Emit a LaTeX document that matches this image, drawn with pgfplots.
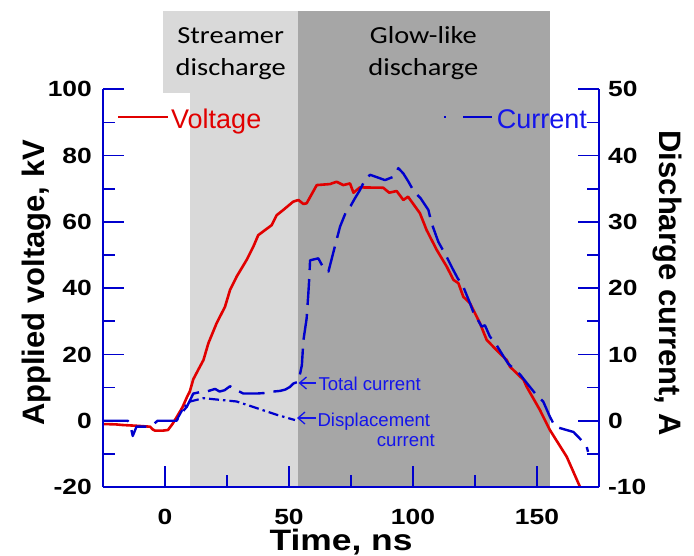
\documentclass[border=0pt]{standalone}
\usepackage{fontspec}
\usepackage{pgfplots}
\pgfplotsset{compat=1.18}
\usetikzlibrary{arrows.meta}
\setmainfont{Liberation Sans}
\newfontfamily\tickf[FakeStretch=1.2]{Liberation Sans}
\newfontfamily\calib[FakeStretch=1.16]{Carlito}
\newcommand{\tk}[1]{\mbox{\tickf\bfseries\fontsize{22}{24}\selectfont #1}}
\definecolor{vred}{RGB}{225,0,0}
\definecolor{cblue}{RGB}{0,0,205}
\definecolor{tblue}{RGB}{20,20,235}
\definecolor{lgray}{RGB}{217,217,217}
\definecolor{dgray}{RGB}{166,166,166}

\pgfplotstableread{
x y
-25 -1.0
-20 -1.1
-17 -1.3
-12 -1.5
-6 -1.8
-5 -2.6
-4 -3.0
-1 -3.0
1.2 -2.8
3 -1.0
4.8 1.2
7 4.0
8.9 7.2
10 8.8
11.4 12.5
13.5 15.5
15.5 18.3
17.5 23.4
20.8 29.4
24.2 34.4
26.2 39.4
28.9 43.5
32.9 48.5
35.6 52.5
37.6 56
43 59
45 62
47.7 63.6
51.7 66.1
53.8 66.6
55.8 65.4
57.1 65.6
61.2 71.1
66.5 71.4
69.2 72.1
71.9 71.1
74.6 71.6
76 68.8
78.6 70.4
88 70.3
90.4 68.8
93.4 69.3
96.1 66.6
98 67.6
102.8 62.6
105.5 57.5
109.6 51.5
113.6 46.5
116.3 42.5
118.3 41.5
120.3 37.4
123 35.4
127 29.4
129.7 24.4
133.7 21.3
137.8 18.3
139.1 16.3
144.6 12.3
145.8 10.3
151.2 3.2
155.2 -2.8
162 -10.9
167.3 -19.9
}\voltage

\pgfplotstableread{
x y
-25 0
-15 0
-14 -0.6
-13 -2.3
-11.5 -0.9
-7 -0.9
-4.5 -0.5
-3 0
4.7 0
6 0.9
8.8 2.1
11.4 4.1
14 4.3
16.8 4.4
20.2 4.8
22 4.4
24 4.6
26.2 5.2
28.9 4.6
31.6 4.1
37 4.1
41 4.2
43.7 4.4
46.4 4.5
48.5 4.7
50.4 5.1
51.7 5.6
53.8 5.9
55.2 8.4
55.8 12.1
57.1 15.4
57.8 19.2
58.2 21.7
58.5 24.2
61.8 24.5
64 23.0
65.9 22.5
68.5 26.3
70.6 29.3
73.3 31.8
75 32.5
76.5 33.5
78.6 34.8
80.6 36.3
82.7 37.1
85 36.8
88.7 36.3
92.1 36.8
94.1 38.1
96.1 37.3
98.1 36.1
100.5 34.5
103 33.6
106.2 31.8
107.5 29.8
110.2 27
113.6 24.7
115.6 23.2
118 21.5
120.3 20.2
123 17.7
124.3 16.4
127.7 14.2
129 14.4
131 12.7
133.7 11.4
136 10
138.4 8.6
143.1 7
146.5 5.4
149.5 4
152.5 2.9
155.2 0.6
157.3 -0.9
161 -1.3
164.7 -1.7
167.3 -2.7
170 -3.9
170.6 -4.7
}\total

\pgfplotstableread{
x y
5 0.3
7.4 1.9
10.1 2.9
15.5 3.4
20.8 3.2
28.9 2.9
37 1.9
45 0.9
52.4 0.1
}\displ

\begin{document}
\begin{tikzpicture}
\begin{axis}[
  at={(103pt,-487pt)}, anchor=south west,
  scale only axis, width=496pt, height=397.7pt,
  xmin=-25, xmax=175, ymin=-20, ymax=100,
  axis x line*=bottom, axis y line*=left,
  axis line style={cblue, line width=1.7pt},
  tick style={cblue, line width=1.7pt},
  tick align=inside,
  major tick length=21pt, minor tick length=12pt,
  xtick={0,50,100,150}, xticklabels={\tk{0},\tk{50},\tk{100},\tk{150}},
  minor xtick={25,75,125},
  ytick={-20,0,20,40,60,80,100}, yticklabels={\tk{-20},\tk{0},\tk{20},\tk{40},\tk{60},\tk{80},\tk{100}},
  minor ytick={-10,10,30,50,70,90},
  xticklabel style={inner sep=0pt, anchor=north, yshift=-22pt},
  yticklabel style={inner sep=0pt, anchor=east, xshift=-11pt},
  clip=false, axis on top,
]
\fill[lgray] (axis cs:10.1,-20) rectangle (axis cs:53.6,99);
\fill[lgray] (axis cs:-0.8,99) rectangle (axis cs:53.6,123.6);
\fill[dgray] (axis cs:53.6,-20) rectangle (axis cs:155.2,123.6);
\addplot[vred, line width=2.6pt, line join=round] table {\voltage};
\end{axis}
\begin{axis}[
  at={(103pt,-487pt)}, anchor=south west,
  scale only axis, width=496pt, height=397.7pt,
  xmin=-25, xmax=175, ymin=-10, ymax=50,
  axis x line=none, axis y line*=right,
  axis line style={cblue, line width=1.7pt},
  tick style={cblue, line width=1.7pt},
  tick align=inside,
  major tick length=21pt, minor tick length=12pt,
  ytick={-10,0,10,20,30,40,50}, yticklabels={\tk{-10},\tk{0},\tk{10},\tk{20},\tk{30},\tk{40},\tk{50}},
  minor ytick={-5,5,15,25,35,45},
  yticklabel style={inner sep=0pt, anchor=west, xshift=9pt},
  clip=false, axis on top,
]
\addplot[cblue, line width=2.4pt, line join=round, dash pattern=on 26pt off 9pt] table {\total};
\addplot[cblue, line width=2.2pt, line join=round, dash pattern=on 10pt off 4pt on 2.5pt off 4pt] table {\displ};
\end{axis}

% region labels
\node[font=\calib\fontsize{24.5}{26}\selectfont, anchor=base, inner sep=0pt] at (230.7pt,-44pt) {Streamer};
\node[font=\calib\fontsize{24.5}{26}\selectfont, anchor=base, inner sep=0pt] at (230.7pt,-76pt) {discharge};
\node[font=\calib\fontsize{24.5}{26}\selectfont, anchor=base, inner sep=0pt] at (423.3pt,-44pt) {Glow-like};
\node[font=\calib\fontsize{24.5}{26}\selectfont, anchor=base, inner sep=0pt] at (423.3pt,-76pt) {discharge};

% legend
\draw[vred, line width=2.6pt] (118pt,-117pt) -- (168pt,-117pt);
\node[vred, font=\fontsize{27}{30}\selectfont, anchor=base west, inner sep=0pt] at (171pt,-128.3pt) {Voltage};
\draw[cblue, line width=2.4pt, dash pattern=on 2pt off 17pt on 29pt] (444pt,-117pt) -- (492pt,-117pt);
\node[tblue, font=\fontsize{27}{30}\selectfont, anchor=base west, inner sep=0pt] at (496.7pt,-128.3pt) {Current};

% annotations
\draw[tblue, line width=1.3pt, -{Straight Barb[length=7pt,width=12pt]}] (316pt,-383pt) -- (298.5pt,-383pt);
\node[tblue, font=\fontsize{18.6}{21}\selectfont, anchor=base west, inner sep=0pt] at (318.3pt,-390pt) {Total current};
\draw[tblue, line width=1.3pt, -{Straight Barb[length=7pt,width=12pt]}] (316pt,-418pt) -- (297pt,-418pt);
\node[tblue, font=\fontsize{18.6}{21}\selectfont, anchor=base west, inner sep=0pt] at (317.3pt,-426pt) {Displacement};
\node[tblue, font=\fontsize{18.6}{21}\selectfont, anchor=base east, inner sep=0pt] at (435pt,-446.7pt) {current};

% axis labels
\node[font=\tickf\bfseries\fontsize{29.5}{32}\selectfont, anchor=base, inner sep=0pt] at (341pt,-550.5pt) {Time, ns};
\node[font=\bfseries\fontsize{31}{34}\selectfont, anchor=base, inner sep=0pt, rotate=90] at (45pt,-283pt) {Applied voltage, kV};
\node[font=\bfseries\fontsize{31}{34}\selectfont, anchor=base, inner sep=0pt, rotate=-90] at (659pt,-283pt) {Discharge current, A};

\pgfresetboundingbox
\path[use as bounding box] (0pt,0pt) rectangle (694pt,-556pt);
\end{tikzpicture}
\end{document}
